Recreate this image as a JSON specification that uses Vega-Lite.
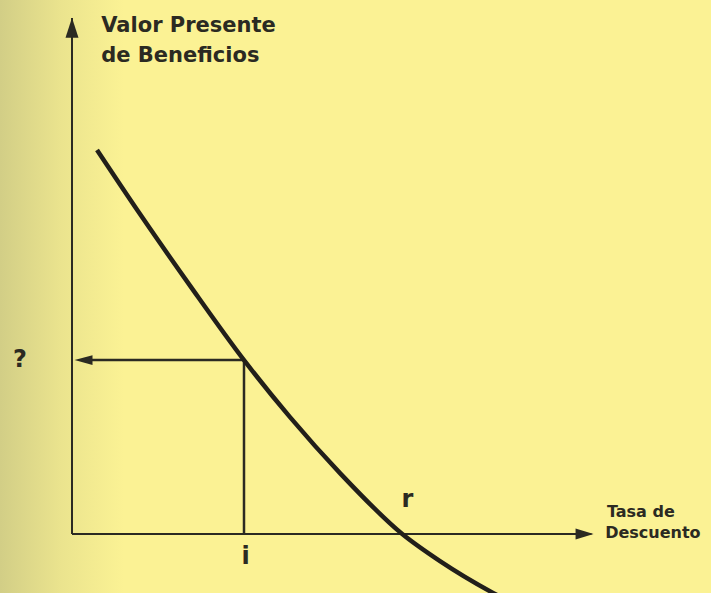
{
  "$schema": "https://vega.github.io/schema/vega-lite/v6.json",
  "width": 711,
  "height": 593,
  "padding": 0,
  "autosize": {"type": "none"},
  "background": "#fbf294",
  "config": {"view": {"stroke": null}},
  "datasets": {
    "shade": [{"x": -4.186, "x2": 3.0, "y": -16.389, "y2": 148.333}],
    "curve": [
      {"tasa": 1.453, "vpb": 106.67},
      {"tasa": 3.953, "vpb": 88.86},
      {"tasa": 6.86, "vpb": 69.0},
      {"tasa": 10.0, "vpb": 48.3},
      {"tasa": 12.674, "vpb": 32.47},
      {"tasa": 15.581, "vpb": 16.92},
      {"tasa": 19.2, "vpb": 0.0},
      {"tasa": 21.395, "vpb": -7.53},
      {"tasa": 24.477, "vpb": -16.36},
      {"tasa": 24.884, "vpb": -17.4}
    ],
    "axes": [
      {"x": 0, "y": 0, "x2": 30.2, "y2": 0},
      {"x": 0, "y": 0, "x2": 0, "y2": 143.3}
    ],
    "guides": [
      {"x": 10, "y": 0, "x2": 10, "y2": 48.3},
      {"x": 10, "y": 48.3, "x2": 0.6, "y2": 48.3}
    ],
    "arrowX": [{"x": 29.8, "y": 0}],
    "arrowY": [{"x": 0, "y": 140.6}],
    "arrowQ": [{"x": 0.67, "y": 48.3}],
    "bigLabels": [
      {"x": -3.02, "y": 48.3, "t": "?"},
      {"x": 19.5, "y": 9.4, "t": "r"}
    ],
    "iLabel": [{"x": 10.1, "y": -6.4, "t": "i"}],
    "titles": [
      {"x": 1.7, "y": 139.4, "t": "Valor Presente"},
      {"x": 1.7, "y": 131.1, "t": "de Beneficios"}
    ],
    "xTitle": [
      {"x": 31.1, "y": 4.7, "t": "Tasa de"},
      {"x": 31.0, "y": -1.1, "t": "Descuento"}
    ]
  },
  "encoding": {
    "x": {"field": "x", "type": "quantitative", "axis": null, "scale": {"domain": [-4.186, 37.151], "nice": false, "zero": false}},
    "y": {"field": "y", "type": "quantitative", "axis": null, "scale": {"domain": [-16.389, 148.333], "nice": false, "zero": false}}
  },
  "layer": [
    {
      "data": {"name": "shade"},
      "mark": {"type": "rect", "color": {"gradient": "linear", "x1": 0, "y1": 0, "x2": 1, "y2": 0, "stops": [{"offset": 0, "color": "#d2ce86"}, {"offset": 0.5, "color": "#ebe48e"}, {"offset": 1, "color": "#fbf294"}]}},
      "encoding": {"x2": {"field": "x2"}, "y2": {"field": "y2"}}
    },
    {
      "data": {"name": "axes"},
      "mark": {"type": "rule", "color": "#2b2a22", "strokeWidth": 2},
      "encoding": {"x2": {"field": "x2"}, "y2": {"field": "y2"}}
    },
    {
      "data": {"name": "guides"},
      "mark": {"type": "rule", "color": "#2b2a22", "strokeWidth": 2.5},
      "encoding": {"x2": {"field": "x2"}, "y2": {"field": "y2"}}
    },
    {
      "data": {"name": "curve"},
      "mark": {"type": "line", "color": "#221f1a", "strokeWidth": 4.5, "interpolate": "monotone", "clip": true},
      "encoding": {
        "x": {"field": "tasa", "type": "quantitative"},
        "y": {"field": "vpb", "type": "quantitative"}
      }
    },
    {
      "data": {"name": "arrowX"},
      "mark": {"type": "point", "filled": true, "opacity": 1, "color": "#2b2a22", "size": 324, "shape": "M-1,-0.6L1,0L-1,0.6Z"}
    },
    {
      "data": {"name": "arrowY"},
      "mark": {"type": "point", "filled": true, "opacity": 1, "color": "#2b2a22", "size": 400, "shape": "M-0.65,1L0,-1L0.65,1Z"}
    },
    {
      "data": {"name": "arrowQ"},
      "mark": {"type": "point", "filled": true, "opacity": 1, "color": "#2b2a22", "size": 324, "shape": "M1,-0.55L-1,0L1,0.55Z"}
    },
    {
      "data": {"name": "bigLabels"},
      "mark": {"type": "text", "font": "DejaVu Sans", "fontWeight": "bold", "fontSize": 24, "color": "#2b2a22", "align": "center", "baseline": "middle"},
      "encoding": {"text": {"field": "t"}}
    },
    {
      "data": {"name": "iLabel"},
      "mark": {"type": "text", "font": "DejaVu Sans", "fontWeight": "bold", "fontSize": 24, "color": "#2b2a22", "align": "center", "baseline": "middle"},
      "encoding": {"text": {"field": "t"}}
    },
    {
      "data": {"name": "titles"},
      "mark": {"type": "text", "font": "DejaVu Sans", "fontWeight": "bold", "fontSize": 21, "color": "#2b2a22", "align": "left", "baseline": "alphabetic"},
      "encoding": {"text": {"field": "t"}}
    },
    {
      "data": {"name": "xTitle"},
      "mark": {"type": "text", "font": "DejaVu Sans", "fontWeight": "bold", "fontSize": 16, "color": "#2b2a22", "align": "left", "baseline": "alphabetic"},
      "encoding": {"text": {"field": "t"}}
    }
  ]
}
